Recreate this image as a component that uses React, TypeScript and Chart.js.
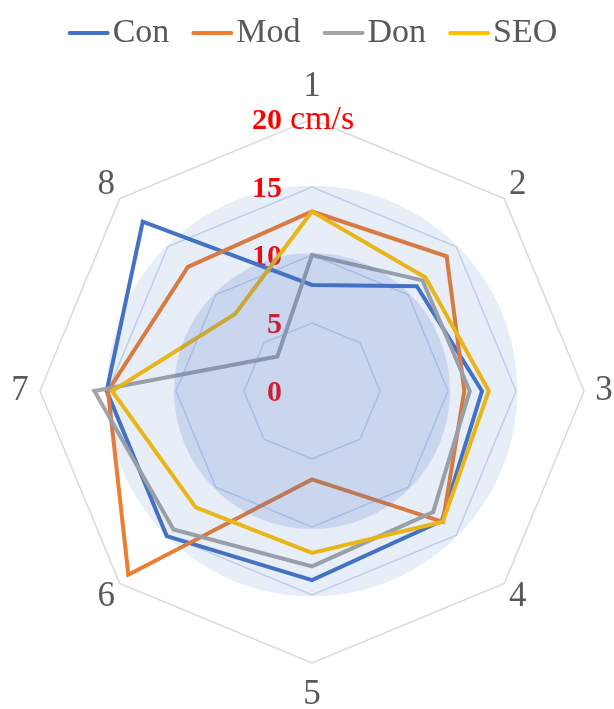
import React, { useEffect, useRef } from "react";
import { Chart, registerables } from "chart.js";

Chart.register(...registerables);

// ---- data ----
const AXES = ["1", "2", "3", "4", "5", "6", "7", "8"];
const SERIES_NAMES = ["Con", "Mod", "Don", "SEO"];
const CON = [7.8, 10.9, 12.5, 13.5, 13.9, 15.1, 15.1, 17.6];
const MOD = [13.2, 14.0, 11.2, 13.6, 6.5, 19.1, 15.0, 12.9];
const DON = [10.0, 11.5, 11.6, 12.6, 12.9, 14.4, 16.0, 3.6];
const SEO = [13.2, 11.8, 13.0, 13.6, 11.9, 12.1, 14.7, 8.0];
const TICKS = [0, 5, 10, 15, 20];
const UNIT = "cm/s";
const BANDS = [15.1, 10.15];

const COLORS = ["#4472c4", "#ed7d31", "#a5a5a5", "#ffc000"];
const SERIF = '"Liberation Serif", "Times New Roman", serif';

const decoPlugin = {
  id: "deco",
  beforeDatasetsDraw(chart: any) {
    const s = chart.scales.r;
    const ctx = chart.ctx;
    ctx.save();
    ctx.fillStyle = "#ff0000";
    ctx.textBaseline = "alphabetic";
    TICKS.forEach((t, i) => {
      const y = s.yCenter - s.getDistanceFromCenterForValue(t) + 10;
      ctx.font = `bold 30px ${SERIF}`;
      ctx.textAlign = "right";
      ctx.fillText(String(t), s.xCenter - 30, y);
      if (i === TICKS.length - 1) {
        ctx.textAlign = "left";
        ctx.font = `34px ${SERIF}`;
        ctx.fillText(UNIT, s.xCenter - 22, y);
      }
    });
    ctx.restore();
  },
  afterDatasetsDraw(chart: any) {
    const s = chart.scales.r;
    const ctx = chart.ctx;
    ctx.save();
    const alphas = [0.12, 0.19];
    BANDS.forEach((b, i) => {
      ctx.beginPath();
      ctx.arc(s.xCenter, s.yCenter, s.getDistanceFromCenterForValue(b), 0, Math.PI * 2);
      ctx.fillStyle = `rgba(68,114,196,${alphas[i]})`;
      ctx.fill();
    });
    ctx.restore();
  },
  afterDraw(chart: any) {
    const s = chart.scales.r;
    const ctx = chart.ctx;
    ctx.save();
    // point labels
    ctx.fillStyle = "#595959";
    ctx.font = `35px ${SERIF}`;
    ctx.textAlign = "center";
    ctx.textBaseline = "middle";
    AXES.forEach((lab, i) => {
      const d = i % 4 === 0 ? 304 : i % 2 === 0 ? 292 : 291;
      const p = s.getPointPosition(i, d);
      ctx.fillText(lab, p.x, p.y);
    });
    // legend
    ctx.font = `34px ${SERIF}`;
    const lineLen = 40;
    const gapText = 4;
    const gapItem = 23;
    const widths = chart.data.datasets.map((ds: any) => ctx.measureText(ds.label).width);
    const total =
      widths.reduce((a: number, w: number) => a + lineLen + gapText + w, 0) +
      gapItem * (widths.length - 1);
    let x = 313 - total / 2;
    const y = 33;
    ctx.textAlign = "left";
    chart.data.datasets.forEach((ds: any, i: number) => {
      ctx.beginPath();
      ctx.strokeStyle = ds.borderColor;
      ctx.lineWidth = 4;
      ctx.lineCap = "round";
      ctx.moveTo(x + 1, y);
      ctx.lineTo(x + lineLen - 1, y);
      ctx.stroke();
      ctx.fillStyle = "#595959";
      ctx.fillText(ds.label, x + lineLen + gapText, y);
      x += lineLen + gapText + widths[i] + gapItem;
    });
    ctx.restore();
  },
};

export default function App() {
  const ref = useRef<HTMLCanvasElement | null>(null);
  useEffect(() => {
    if (!ref.current) return;
    const values = [CON, MOD, DON, SEO];
    const chart = new Chart(ref.current, {
      type: "radar",
      data: {
        labels: AXES,
        datasets: SERIES_NAMES.map((name, i) => ({
          label: name,
          data: values[i],
          borderColor: COLORS[i],
          backgroundColor: "transparent",
          borderWidth: 4,
          fill: false,
          pointRadius: 0,
          pointHoverRadius: 0,
          order: SERIES_NAMES.length - 1 - i,
        })),
      },
      options: {
        responsive: true,
        maintainAspectRatio: false,
        animation: false,
        layout: { padding: { top: 119, bottom: 46, left: 21, right: 10 } },
        plugins: { legend: { display: false }, tooltip: { enabled: false } },
        elements: { line: { tension: 0, borderJoinStyle: "miter" } },
        scales: {
          r: {
            min: 0,
            max: 20,
            ticks: { display: false, stepSize: 5 },
            pointLabels: { display: false },
            angleLines: { display: false },
            grid: {
              color: (c: any) => (c.index === TICKS.length - 1 ? "#d9d9d9" : "#cfdbf0"),
              lineWidth: 1.5,
            },
          },
        },
      },
      plugins: [decoPlugin],
    });
    return () => chart.destroy();
  }, []);
  return (
    <div style={{ position: "fixed", left: 0, top: 0, width: 614, height: 709 }}>
      <canvas ref={ref} />
    </div>
  );
}
